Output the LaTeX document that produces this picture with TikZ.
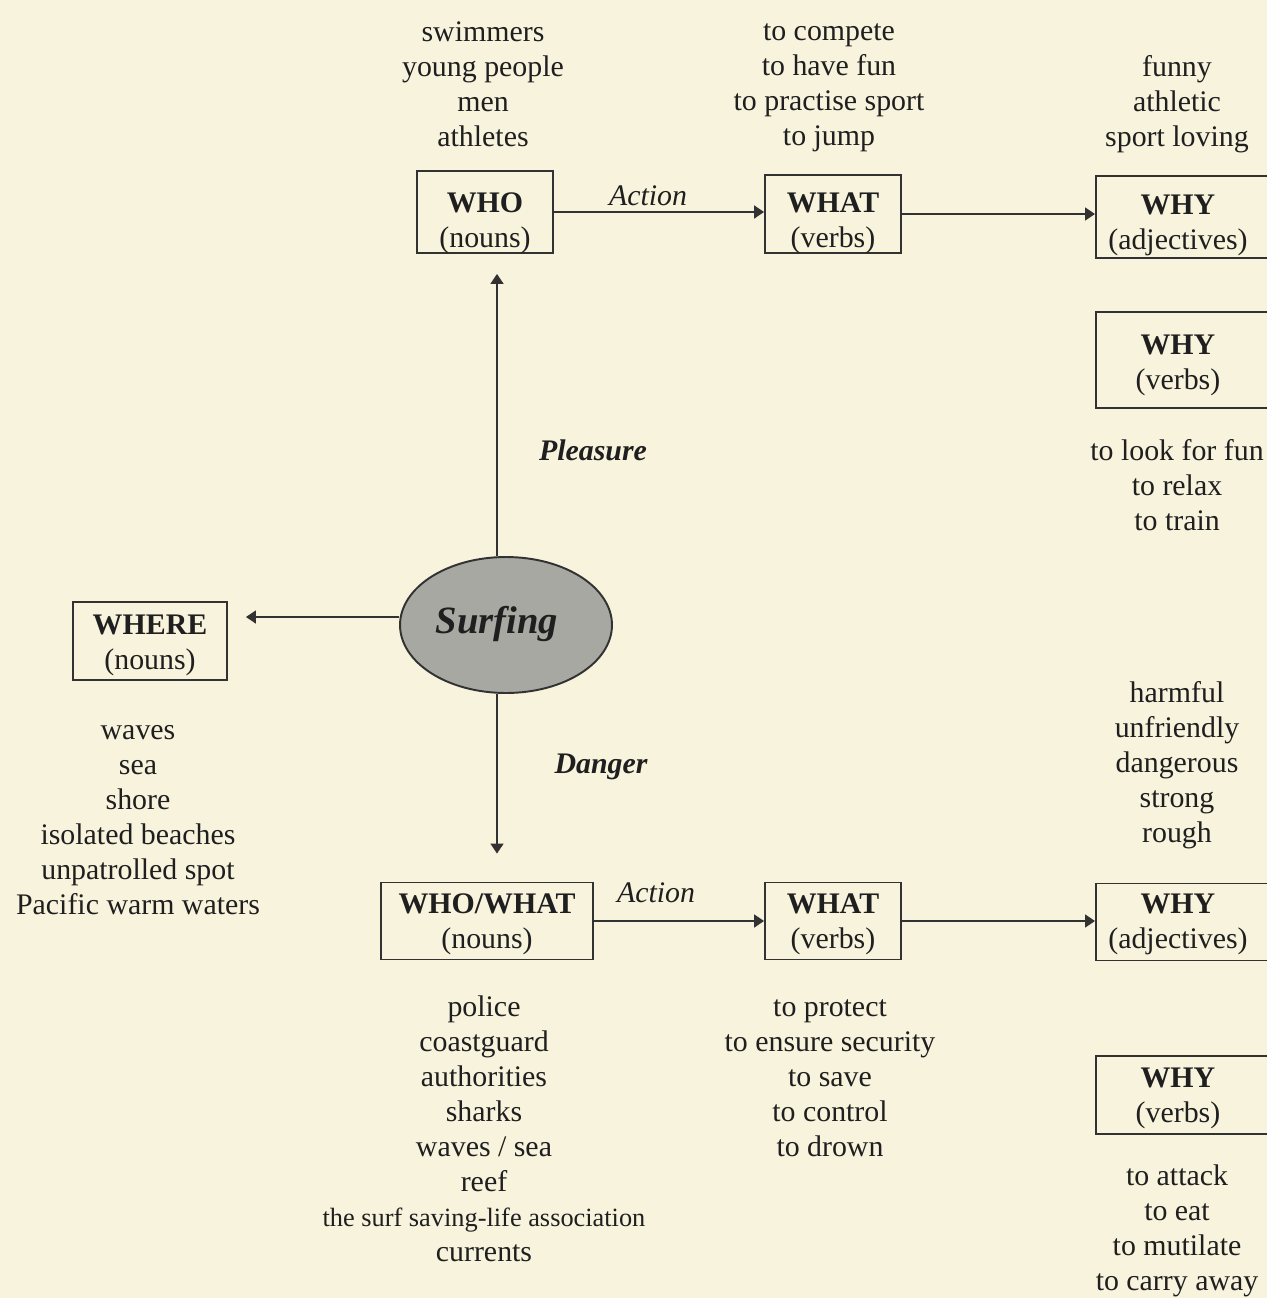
\documentclass[tikz,border=0pt]{standalone}
\usepackage{fontspec}
\setmainfont{Liberation Serif}
\usetikzlibrary{arrows.meta,positioning,shapes.geometric}
\definecolor{paper}{RGB}{247,243,221}
\definecolor{inkgray}{RGB}{50,50,50}
\definecolor{surfgray}{RGB}{168,168,163}

\begin{document}
\begin{tikzpicture}[x=0.02cm,y=-0.02cm,>=Stealth,
  every node/.style={font=\fontsize{17}{19.9}\selectfont,text=black!88},
  catbox/.style={draw=inkgray,line width=1.1pt,inner sep=0pt},
  boxtext/.style={align=center,inner sep=0pt},
  wordlist/.style={align=center,inner sep=0pt},
  arrow/.style={-{Triangle[length=2mm,width=2.6mm]},line width=1pt,draw=inkgray},
  linklabel/.style={font=\fontsize{17}{19.9}\selectfont\itshape},
  themelabel/.style={font=\fontsize{17}{19.9}\selectfont\bfseries\itshape}]
\useasboundingbox (0,0) rectangle (1267,1298);
\fill[paper] (0,0) rectangle (1267,1298);
\clip (0,0) rectangle (1267,1298);

% centre of the map
\node[ellipse,draw=inkgray,line width=1.1pt,fill=surfgray,inner sep=0pt,
  minimum width=4.24cm,minimum height=2.72cm,
  label={[font=\fontsize{22}{26}\selectfont\bfseries\itshape,xshift=-0.18cm,yshift=0.03cm]center:Surfing}] (surf) at (506,625) {};

% pleasure branch
\node[catbox,minimum width=2.72cm,minimum height=1.64cm,
  label={[boxtext,yshift=-0.22cm]center:{\textbf{WHO}\\(nouns)}}] (who) at (485,212) {};
\node[catbox,minimum width=2.72cm,minimum height=1.56cm,
  label={[boxtext,yshift=-0.18cm]center:{\textbf{WHAT}\\(verbs)}}] (whatA) at (833,214) {};
\node[catbox,anchor=west,minimum width=4cm,minimum height=1.64cm,
  label={[boxtext,xshift=-0.36cm,yshift=-0.16cm]center:{\textbf{WHY}\\(adjectives)}}] (whyA) at (1095,217) {};
\node[catbox,anchor=west,minimum width=4cm,minimum height=1.92cm,
  label={[boxtext,xshift=-0.36cm,yshift=-0.1cm]center:{\textbf{WHY}\\(verbs)}}] (whyB) at (1095,360) {};

% danger branch
\node[catbox,minimum width=4.24cm,minimum height=1.54cm,
  label={[boxtext,yshift=-0.06cm]center:{\textbf{WHO/WHAT}\\(nouns)}}] (whowhat) at (487,921) {};
\node[catbox,minimum width=2.72cm,minimum height=1.54cm,
  label={[boxtext,yshift=-0.06cm]center:{\textbf{WHAT}\\(verbs)}}] (whatB) at (833,921) {};
\node[catbox,anchor=west,minimum width=4cm,minimum height=1.54cm,
  label={[boxtext,xshift=-0.36cm,yshift=-0.04cm]center:{\textbf{WHY}\\(adjectives)}}] (whyC) at (1095,922) {};
\node[catbox,anchor=west,minimum width=4cm,minimum height=1.56cm,
  label={[boxtext,xshift=-0.36cm,yshift=-0.06cm]center:{\textbf{WHY}\\(verbs)}}] (whyD) at (1095,1095) {};

% place
\node[catbox,minimum width=3.08cm,minimum height=1.56cm,
  label={[boxtext,yshift=-0.08cm]center:{\textbf{WHERE}\\(nouns)}}] (where) at (150,641) {};

% connectors
\coordinate (upStart) at ([xshift=-0.18cm]surf.north);
\coordinate (downStart) at ([xshift=-0.18cm]surf.south);
\coordinate (leftStart) at ([yshift=0.16cm]surf.west);
\draw[arrow,shorten >=0.4cm] (upStart) -- (upStart |- who.south);
\draw[arrow,shorten >=0.56cm] (downStart) -- (downStart |- whowhat.north);
\draw[arrow,shorten >=0.36cm] (leftStart) -- (leftStart -| where.east);
\draw[arrow] (who.east) -- (who.east -| whatA.west);
\draw[arrow] (whatA.east) -- (whatA.east -| whyA.west);
\draw[arrow] (whowhat.east) -- (whowhat.east -| whatB.west);
\draw[arrow] (whatB.east) -- (whatB.east -| whyC.west);

\node[linklabel] (actionTop) at (648,196) {Action};
\node[linklabel] (actionBot) at (656,893) {Action};
\node[themelabel] (pleasure) at (593,450) {Pleasure};
\node[themelabel] (danger) at (601,767) {Danger};

% word lists
\node[wordlist] (whoWords) at (483,84) {swimmers\\young people\\men\\athletes};
\node[wordlist] (whatAWords) at (829,88) {to compete\\to have fun\\to practise sport\\to jump};
\node[wordlist] (whyAWords) at (1177,104) {funny\\athletic\\sport loving};
\node[wordlist] (whyBWords) at (1177,485) {to look for fun\\to relax\\to train};
\node[wordlist] (whereWords) at (138,820) {waves\\sea\\shore\\isolated beaches\\unpatrolled spot\\Pacific warm waters};
\node[wordlist] (whyCWords) at (1177,765) {harmful\\unfriendly\\dangerous\\strong\\rough};
\node[wordlist] (whowhatWords) at (484,1129) {police\\coastguard\\authorities\\sharks\\waves / sea\\reef\\
  {\fontsize{15}{19.9}\selectfont the surf saving-life association}\\currents};
\node[wordlist] (whatBWords) at (830,1078) {to protect\\to ensure security\\to save\\to control\\to drown};
\node[wordlist] (whyDWords) at (1177,1231) {to attack\\to eat\\to mutilate\\to carry away};
\end{tikzpicture}
\end{document}
